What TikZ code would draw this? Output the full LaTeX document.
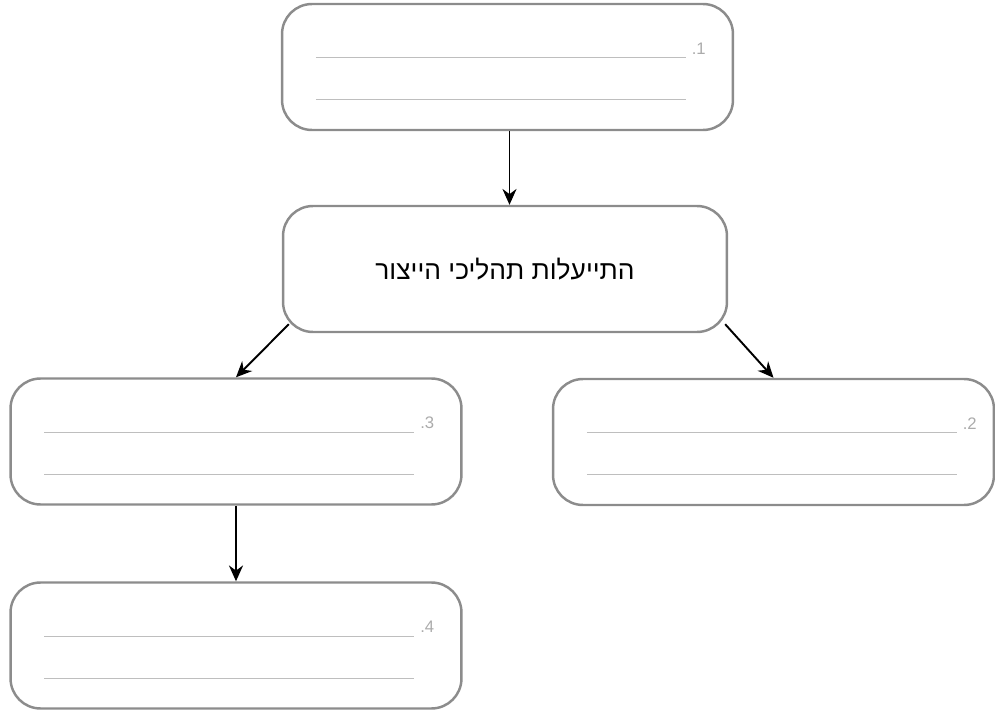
\documentclass[tikz,border=0pt]{standalone}
\usepackage{fontspec}
\usepackage{xcolor}
\usepackage{tikz}
\usetikzlibrary{calc}
\usetikzlibrary{arrows.meta}
\TeXXeTstate=1
\newfontfamily\hebrewfont[Script=Hebrew]{Liberation Sans}
\newfontfamily\numfont{Liberation Sans}
\definecolor{BoxGray}{HTML}{8C8C8C}
\definecolor{LineGray}{HTML}{BEBEBE}
\definecolor{NumGray}{HTML}{ABABAB}

\begin{document}
\begin{tikzpicture}[
  x = 0.02cm, y = -0.02cm,
  box/.style={
      draw = BoxGray, line width = 1.4pt, rounded corners = 0.6cm,
      minimum width = #1, minimum height = 2.52cm, inner sep = 0pt
  },
  box/.default = 9.02cm,
  writeline/.style={draw = LineGray, line width = .8pt},
  num/.style={text = NumGray, font = \numfont\fontsize{9.5}{11}\selectfont,
      anchor = base west, inner sep = 0pt, xshift = 3pt, yshift = 2pt},
  link/.style={-{Stealth[length = 9pt, width = 8pt]}, line width = 1.1pt}
]
  \useasboundingbox (0, 0) rectangle (995, 710);

  \node[box] (task1) at (507.5, 67) {};
  \node[box = 8.88cm] (topic) at (505, 269)
    {\fontsize{15}{18}\selectfont\hebrewfont\beginR התייעלות תהליכי הייצור\endR};
  \node[box] (task3) at (236, 441.5) {};
  \node[box = 8.82cm] (task2) at (773.5, 442) {};
  \node[box] (task4) at (236, 645.5) {};

  \foreach \b/\n in {task1/1, task2/2, task3/3, task4/4}
  {
    \draw[writeline] ($(\b.north west) + (35, 55)$) -- ($(\b.north west) + (405, 55)$)
      node[num] {.\n};
    \draw[writeline] ($(\b.north west) + (35, 97)$) -- ($(\b.north west) + (405, 97)$);
  }

  \coordinate (drop) at ($(task1.south) + (2, 0)$);
  \draw[link] (drop) -- (drop |- topic.north);
  \draw[link] ($(topic.south west) + (7, -9)$) -- (task3.north);
  \draw[link] ($(topic.south east) + (-3, -9)$) -- (task2.north);
  \draw[link] (task3.south) -- (task4.north);
\end{tikzpicture}
\end{document}
